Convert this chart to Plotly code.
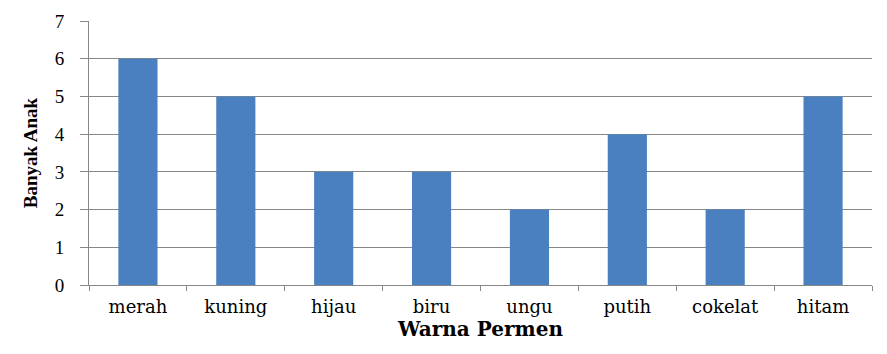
import plotly.graph_objects as go

# Warna permen favorit dan banyak anak yang memilihnya
warna = ["merah", "kuning", "hijau", "biru", "ungu", "putih", "cokelat", "hitam"]
banyak_anak = [6, 5, 3, 3, 2, 4, 2, 5]
y_ticks = [0, 1, 2, 3, 4, 5, 6, 7]

BAR = "#4A80BF"
GRID = "#878787"

fig = go.Figure(
    go.Bar(
        x=warna,
        y=banyak_anak,
        marker=dict(color=BAR, line=dict(width=0)),
        width=0.4,
    )
)

fig.update_layout(
    width=887,
    height=354,
    margin=dict(l=89, r=15, t=21, b=69),
    paper_bgcolor="white",
    plot_bgcolor="white",
    showlegend=False,
    font=dict(family="DejaVu Serif", size=17, color="black"),
)

fig.update_xaxes(
    type="category",
    tickson="boundaries",
    ticks="outside",
    ticklen=5,
    tickcolor=GRID,
    showline=True,
    linecolor=GRID,
    linewidth=1,
    showgrid=False,
    ticklabelstandoff=5,
    tickfont=dict(family="DejaVu Serif", size=18),
    title=dict(
        text="Warna Permen",
        font=dict(family="DejaVu Serif", size=20, weight="bold"),
        standoff=6,
    ),
)

fig.update_yaxes(
    range=[0, 7],
    tickvals=y_ticks,
    ticks="outside",
    ticklen=8,
    tickcolor=GRID,
    showline=True,
    linecolor=GRID,
    linewidth=1,
    showgrid=True,
    gridcolor=GRID,
    gridwidth=1,
    zeroline=False,
    ticklabelstandoff=12,
    tickfont=dict(family="Liberation Serif", size=19),
    title=dict(
        text="Banyak Anak",
        font=dict(family="Liberation Serif", size=19, weight="bold"),
        standoff=12,
    ),
)

fig.write_html("out.html")
